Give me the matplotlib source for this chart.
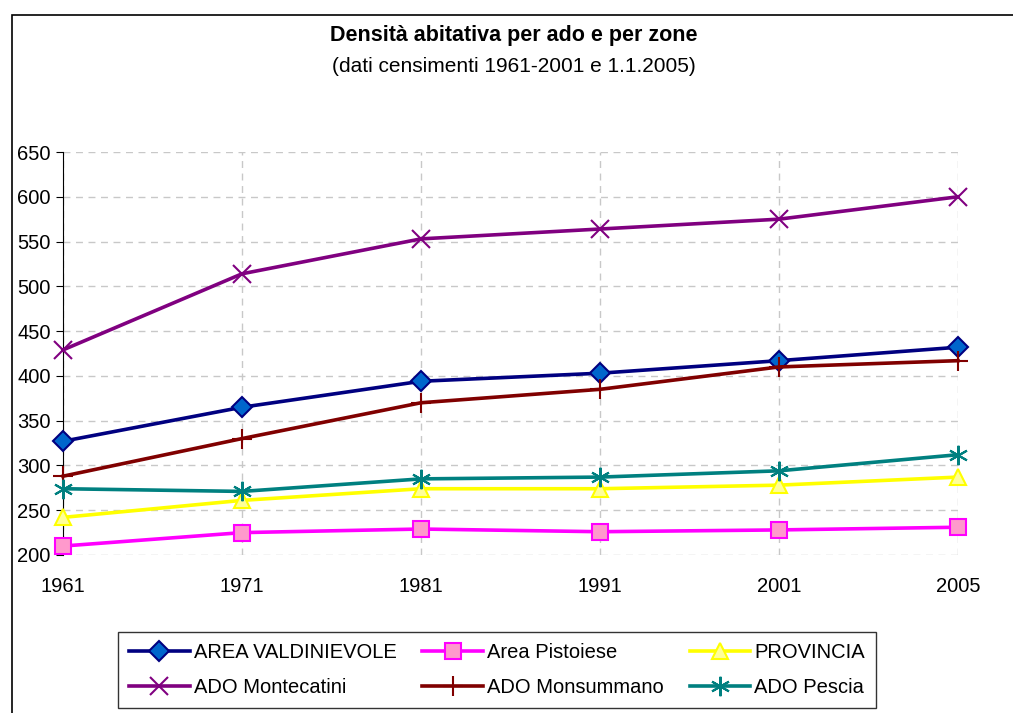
import matplotlib
matplotlib.use("Agg")
import matplotlib.pyplot as plt
from matplotlib.patches import Rectangle

plt.rcParams['font.family'] = ['Liberation Sans', 'DejaVu Sans']

years = ['1961', '1971', '1981', '1991', '2001', '2005']

valdinievole = [327, 365, 394, 403, 417, 432]
pistoiese = [210, 225, 229, 226, 228, 231]
provincia = [242, 261, 274, 274, 278, 287]
montecatini = [429, 514, 553, 564, 575, 600]
monsummano = [288, 330, 370, 385, 410, 417]
pescia = [274, 271, 285, 287, 294, 312]

y_ticks = [200, 250, 300, 350, 400, 450, 500, 550, 600, 650]

# (label, values, line colour, marker, face colour, edge colour, marker size)
series = [
    ('AREA VALDINIEVOLE', valdinievole, '#000080', 'D', '#0066CC', '#000080', 10),
    ('ADO Montecatini', montecatini, '#800080', 'x', 'none', '#800080', 13),
    ('Area Pistoiese', pistoiese, '#FF00FF', 's', '#FF99CC', '#FF00FF', 11.5),
    ('ADO Monsummano', monsummano, '#800000', '+', 'none', '#800000', 14),
    ('PROVINCIA', provincia, '#FFFF00', '^', '#FFFF99', '#FFFF00', 12),
    ('ADO Pescia', pescia, '#008080', (6, 2, 0), 'none', '#008080', 14),
]

fig = plt.figure(figsize=(10.13, 7.13), dpi=100)
ax = fig.add_axes([63 / 1013, 1 - 555 / 713, 895 / 1013, 403 / 713])

x = list(range(len(years)))
for label, vals, lc, mk, fc, ec, ms in series:
    ax.plot(x, vals, color=lc, linewidth=2.6, marker=mk, markersize=ms,
            markerfacecolor=fc, markeredgecolor=ec, markeredgewidth=1.5,
            label=label, zorder=3, clip_on=False)

ax.set_xlim(0, len(years) - 1)
ax.set_ylim(200, 650)
ax.set_xticks(x)
ax.set_xticklabels(years)
ax.set_yticks(y_ticks)
ax.tick_params(axis='x', length=0, pad=16, labelsize=14.5)
ax.tick_params(axis='y', length=5, direction='out', labelsize=14.5, pad=4)
ax.grid(True, linestyle=(0, (5, 4)), color='#C8C8C8', linewidth=1)
for s in ['top', 'right', 'bottom']:
    ax.spines[s].set_visible(False)
ax.spines['left'].set_color('black')

fig.text(514 / 1013, 1 - 35 / 713, 'Densità abitativa per ado e per zone',
         ha='center', va='center', fontsize=15.5, fontweight='bold')
fig.text(514 / 1013, 1 - 66 / 713, '(dati censimenti 1961-2001 e 1.1.2005)',
         ha='center', va='center', fontsize=15)

leg = fig.legend(loc='center', bbox_to_anchor=(497 / 1013, 1 - 670 / 713), ncol=3,
                 fontsize=14.5, frameon=True, fancybox=False, edgecolor='black',
                 handlelength=3.0, columnspacing=1.3, handletextpad=0.2,
                 labelspacing=0.8, borderpad=0.55)
leg.get_frame().set_linewidth(1)

fig.patches.append(Rectangle((12 / 1013, -0.05), 1.2, 1 - 15 / 713 + 0.05,
                             transform=fig.transFigure, fill=False,
                             edgecolor='black', linewidth=1.2))

fig.savefig('out.png', dpi=100)
